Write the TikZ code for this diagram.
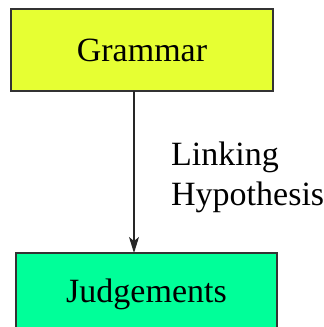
\documentclass[tikz,border=0pt]{standalone}
\usepackage{fontspec}
\setmainfont{Liberation Serif}[Ligatures=TeX]
\newfontfamily\tnr{Liberation Serif}
\usetikzlibrary{arrows.meta}
\definecolor{gramyellow}{HTML}{E6FF33}
\definecolor{judggreen}{HTML}{00FF99}
\tikzset{
  box/.style={draw=black!80, line width=1.2pt, minimum width=262pt, minimum height=82pt, inner sep=0pt, font=\tnr\fontsize{34}{39}\selectfont},
  link/.style={draw=black!85, line width=1.2pt, -{Stealth[length=16pt,width=10pt,inset=4pt]}},
  lbl/.style={font=\tnr\fontsize{34}{40}\selectfont, align=left, anchor=north west, inner sep=0pt}
}
\begin{document}
\begin{tikzpicture}[x=1pt,y=1pt]
\useasboundingbox (0,0) rectangle (324,-327);
\node[box, fill=gramyellow] (g) at (142,-50) {Grammar};
\node[box, fill=judggreen, minimum width=261pt] (j) at (146.5,-294) {Judgements};
\coordinate (gs) at (134,-91);
\coordinate (je) at (134,-253);
\draw[link] (gs) -- (je);
\node[lbl] (l) at (171,-142) {Linking\\Hypothesis};
\end{tikzpicture}
\end{document}
